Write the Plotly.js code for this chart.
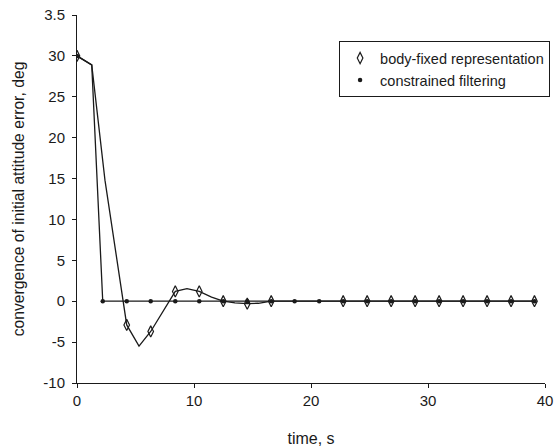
<!DOCTYPE html>
<html>
<head>
<meta charset="utf-8">
<script src="https://cdn.plot.ly/plotly-3.0.1.min.js"></script>
<style>html,body{margin:0;padding:0;background:#fff}#chart{width:554px;height:447px}</style>
</head>
<body>
<div id="chart"></div>
<script>
// Body-fixed representation: line vertices
const bfLineTime = [0, 1.26, 2.39, 4.25, 5.3, 6.3, 8.4, 9.4, 10.45, 11.5, 12.5, 13.5, 14.55, 15.5, 16.6, 18.6, 20.7, 22.75, 24.8, 26.85, 28.9, 30.95, 33.0, 35.05, 37.1, 39.1];
const bfLineValue = [30, 28.9, 14.8, -2.9, -5.5, -3.7, 1.2, 1.55, 1.2, 0.5, 0, -0.2, -0.3, -0.25, 0, 0, 0, 0, 0, 0, 0, 0, 0, 0, 0, 0];
// Body-fixed representation: diamond markers
const bfMarkTime = [0, 4.25, 6.3, 8.4, 10.45, 12.5, 14.55, 16.6, 22.75, 24.8, 26.85, 28.9, 30.95, 33.0, 35.05, 37.1, 39.1];
const bfMarkValue = [30, -2.9, -3.7, 1.2, 1.2, 0, -0.3, 0, 0, 0, 0, 0, 0, 0, 0, 0, 0];
// Constrained filtering: line vertices
const cfLineTime = [0, 1.26, 2.2, 4.25, 6.3, 8.4, 10.45, 12.5, 14.55, 16.6, 18.6, 20.7, 22.75, 24.8, 26.85, 28.9, 30.95, 33.0, 35.05, 37.1, 39.1];
const cfLineValue = [30, 28.9, 0, 0, 0, 0, 0, 0, 0, 0, 0, 0, 0, 0, 0, 0, 0, 0, 0, 0, 0];
// Constrained filtering: dot markers
const cfMarkTime = [0, 2.2, 4.25, 6.3, 8.4, 10.45, 12.5, 14.55, 16.6, 18.6, 20.7, 22.75, 24.8, 26.85, 28.9, 30.95, 33.0, 35.05, 37.1, 39.1];
const cfMarkValue = [30, 0, 0, 0, 0, 0, 0, 0, 0, 0, 0, 0, 0, 0, 0, 0, 0, 0, 0, 0];

const seriesNames = ['body-fixed representation', 'constrained filtering'];
const yTickVals = [35, 30, 25, 20, 15, 10, 5, 0, -5, -10];
const yTickText = ['3.5', '30', '25', '20', '15', '10', '5', '0', '-5', '-10'];
const xTickVals = [0, 10, 20, 30, 40];
const xTickText = ['0', '10', '20', '30', '40'];

const FONT = 'Liberation Sans, Arial, Helvetica, sans-serif';
const INK = '#1a1a1a';

const traces = [
  {x: cfLineTime, y: cfLineValue, mode: 'lines', line: {color: INK, width: 1.3}, showlegend: false, hoverinfo: 'skip'},
  {x: bfLineTime, y: bfLineValue, mode: 'lines', line: {color: INK, width: 1.3}, showlegend: false, hoverinfo: 'skip'},
  {x: bfMarkTime, y: bfMarkValue, mode: 'markers', name: seriesNames[0],
   marker: {symbol: 'diamond-tall-open', size: 8, color: INK, line: {color: INK, width: 1.2}}},
  {x: cfMarkTime, y: cfMarkValue, mode: 'markers', name: seriesNames[1],
   marker: {symbol: 'circle', size: 4.5, color: INK}}
];

const layout = {
  width: 554, height: 447,
  margin: {l: 77, r: 9, t: 15, b: 64, autoexpand: false},
  paper_bgcolor: '#fff', plot_bgcolor: '#fff',
  font: {family: FONT, size: 15, color: INK},
  showlegend: true,
  legend: {x: 0.56, y: 0.929, xanchor: 'left', yanchor: 'top',
           bordercolor: INK, borderwidth: 1, bgcolor: '#fff',
           font: {family: FONT, size: 14.5, color: INK}, itemwidth: 30, tracegroupgap: 0},
  xaxis: {range: [0, 40], tickvals: xTickVals, ticktext: xTickText, automargin: false,
          showgrid: false, zeroline: false, showline: true, linecolor: INK, linewidth: 1,
          ticks: 'outside', ticklen: 4, tickcolor: INK, tickfont: {size: 15},
          title: {text: 'time, s', font: {size: 16}, standoff: 24}},
  yaxis: {range: [-10, 35], tickvals: yTickVals, ticktext: yTickText, automargin: false,
          showgrid: false, zeroline: false, showline: true, linecolor: INK, linewidth: 1,
          ticks: 'outside', ticklen: 4, tickcolor: INK, tickfont: {size: 15},
          ticklabelstandoff: 4,
          title: {text: 'convergence of initial attitude error, deg', font: {size: 15.7}, standoff: 14}}
};

Plotly.newPlot('chart', traces, layout, {displayModeBar: false, staticPlot: true});
</script>
</body>
</html>
